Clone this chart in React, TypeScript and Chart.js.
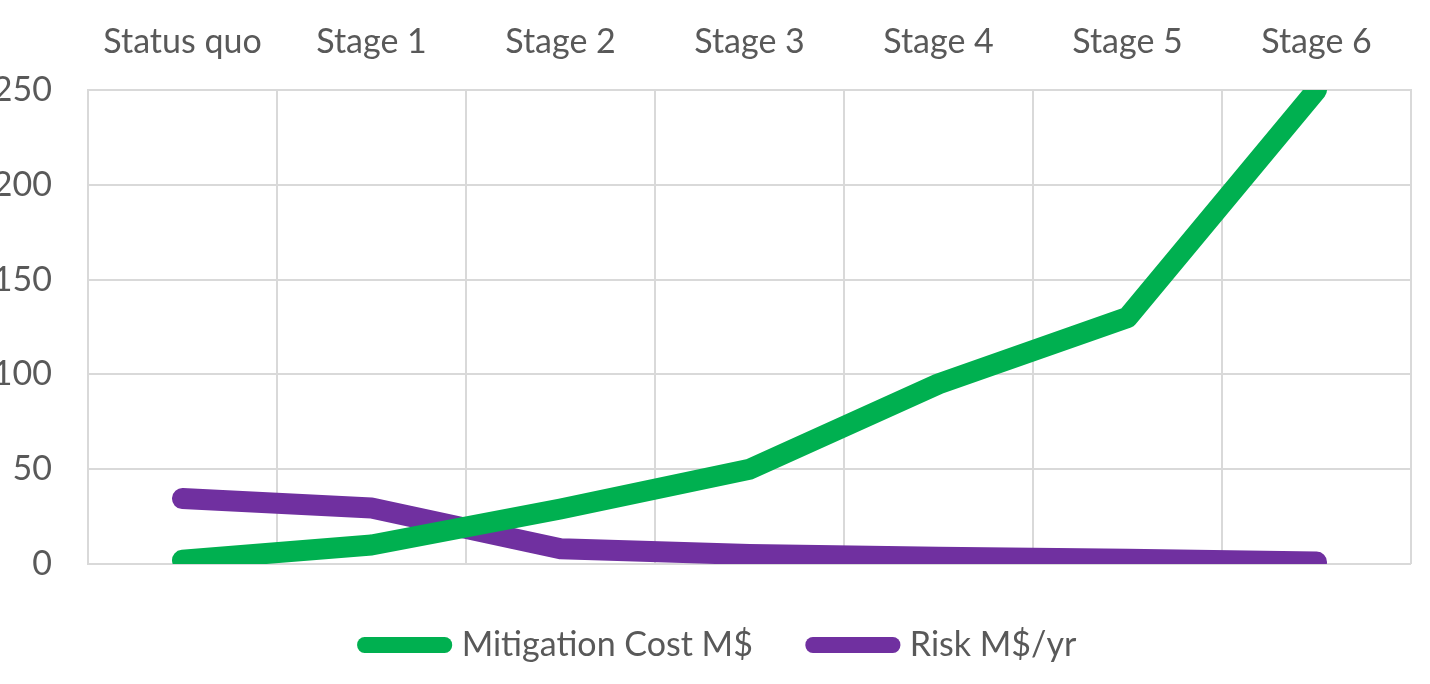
import React, { useEffect, useRef } from "react";
import { Chart, registerables } from "chart.js";

Chart.register(...registerables);

const categories = ["Status quo", "Stage 1", "Stage 2", "Stage 3", "Stage 4", "Stage 5", "Stage 6"];
const mitigationCost = [2, 10, 29, 50, 95, 130, 250];
const risk = [34.5, 29.5, 8, 5, 3.5, 2.5, 1];
const seriesNames = ["Mitigation Cost M$", "Risk M$/yr"];
const yTicks = { min: 0, max: 250, step: 50 };

const GREEN = "#00B050";
const PURPLE = "#7030A0";
const TEXT = "#595959";
const GRID = "#d9d9d9";
const FONT = "Lato, 'Open Sans', sans-serif";

const legendShift = {
  id: "legendShift",
  afterLayout(chart: any) {
    const lg = chart.legend;
    if (!lg) return;
    lg.left += 30;
    lg.right += 30;
    lg.top += 4;
    lg.bottom += 4;
  },
};

export default function App() {
  const ref = useRef<HTMLCanvasElement | null>(null);

  useEffect(() => {
    if (!ref.current) return;
    const chart = new Chart(ref.current, {
      type: "line",
      data: {
        labels: categories,
        datasets: [
          {
            label: seriesNames[0],
            data: mitigationCost,
            borderColor: GREEN,
            backgroundColor: GREEN,
            borderWidth: 21,
            borderCapStyle: "round",
            borderJoinStyle: "round",
            pointRadius: 0,
            pointHoverRadius: 0,
            tension: 0,
            clip: 0,
          },
          {
            label: seriesNames[1],
            data: risk,
            borderColor: PURPLE,
            backgroundColor: PURPLE,
            borderWidth: 21,
            borderCapStyle: "round",
            borderJoinStyle: "round",
            pointRadius: 0,
            pointHoverRadius: 0,
            tension: 0,
            clip: 0,
          },
        ],
      },
      plugins: [legendShift],
      options: {
        animation: false,
        responsive: false,
        maintainAspectRatio: false,
        layout: { padding: { left: 0, right: 19, top: 0, bottom: 16 } },
        plugins: {
          tooltip: { enabled: false },
          legend: {
            position: "bottom",
            labels: {
              color: TEXT,
              font: { family: FONT, size: 34 },
              boxWidth: 80,
              boxHeight: 1,
              padding: 60,
              generateLabels: (c: any) =>
                c.data.datasets.map((ds: any, i: number) => ({
                  text: ds.label,
                  fillStyle: ds.borderColor,
                  strokeStyle: ds.borderColor,
                  lineWidth: 15,
                  lineJoin: "round",
                  lineCap: "round",
                  fontColor: TEXT,
                  hidden: false,
                  datasetIndex: i,
                })),
            },
          },
        },
        scales: {
          x: {
            type: "category",
            position: "top",
            offset: true,
            grid: { offset: true, color: GRID, lineWidth: 2, drawTicks: false },
            border: { display: true, color: GRID, width: 2 },
            ticks: {
              color: TEXT,
              font: { family: FONT, size: 34 },
              padding: 28,
              maxRotation: 0,
              autoSkip: false,
            },
            afterFit: (s: any) => {
              s.height = 90;
            },
          },
          y: {
            min: yTicks.min,
            max: yTicks.max,
            ticks: {
              stepSize: yTicks.step,
              color: TEXT,
              font: { family: FONT, size: 34 },
              padding: 36,
            },
            grid: { color: GRID, lineWidth: 2, drawTicks: false },
            border: { display: true, color: GRID, width: 2 },
            afterFit: (s: any) => {
              s.width = 118;
            },
          },
        },
      },
    });
    return () => chart.destroy();
  }, []);

  return (
    <div style={{ position: "absolute", left: -30, top: 0, width: 1460, height: 684, overflow: "hidden" }}>
      <canvas ref={ref} width={1460} height={684} style={{ display: "block", width: 1460, height: 684 }} />
    </div>
  );
}
